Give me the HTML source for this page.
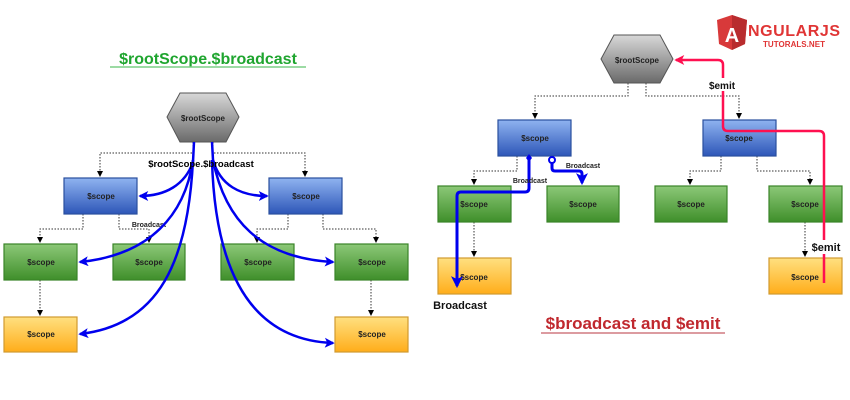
<!DOCTYPE html>
<html><head><meta charset="utf-8"><style>
html,body{margin:0;padding:0;background:#fff;}
svg{display:block;}
text{font-family:"Liberation Sans",sans-serif;}
</style></head><body>
<svg width="850" height="400" viewBox="0 0 850 400" xmlns="http://www.w3.org/2000/svg">
<defs>
<linearGradient id="gb" x1="0" y1="0" x2="0" y2="1"><stop offset="0" stop-color="#8fb3f0"/><stop offset="1" stop-color="#2d56b8"/></linearGradient>
<linearGradient id="gg" x1="0" y1="0" x2="0" y2="1"><stop offset="0" stop-color="#8cc878"/><stop offset="1" stop-color="#3f8f2a"/></linearGradient>
<linearGradient id="go" x1="0" y1="0" x2="0" y2="1"><stop offset="0" stop-color="#ffe080"/><stop offset="1" stop-color="#ffad1a"/></linearGradient>
<linearGradient id="gh" x1="0" y1="0" x2="0" y2="1"><stop offset="0" stop-color="#d8d8d8"/><stop offset="1" stop-color="#6a6a6a"/></linearGradient>
<marker id="ab" markerWidth="4" markerHeight="4" refX="3.3" refY="2" orient="auto" markerUnits="strokeWidth"><path d="M0,0 L4,2 L0,4 L1,2z" fill="#0000ee"/></marker>
<marker id="ar" markerWidth="4" markerHeight="4" refX="3.3" refY="2" orient="auto" markerUnits="strokeWidth"><path d="M0,0 L4,2 L0,4 L1,2z" fill="#ff1050"/></marker>
<marker id="ad" markerWidth="6" markerHeight="6" refX="5" refY="3" orient="auto"><path d="M0,0 L6,3 L0,6z" fill="#000"/></marker>
</defs>

<!-- LEFT -->
<text x="208" y="64" text-anchor="middle" font-size="16" font-weight="bold" fill="#1fa52f">$rootScope.$broadcast</text>
<line x1="110" y1="67" x2="306" y2="67" stroke="#7ccf86" stroke-width="1.5"/>

<g fill="none" stroke="#333" stroke-width="1" stroke-dasharray="1.5,1.5">
<polyline points="193,142 193,153 100,153 100,176" marker-end="url(#ad)"/>
<polyline points="213,142 213,153 305,153 305,176" marker-end="url(#ad)"/>
<polyline points="83,214 83,229 40,229 40,242" marker-end="url(#ad)"/>
<polyline points="119,214 119,229 149,229 149,242" marker-end="url(#ad)"/>
<polyline points="288,214 288,229 257,229 257,242" marker-end="url(#ad)"/>
<polyline points="323,214 323,229 376,229 376,242" marker-end="url(#ad)"/>
<line x1="40" y1="280" x2="40" y2="315" marker-end="url(#ad)"/>
<line x1="371" y1="280" x2="371" y2="315" marker-end="url(#ad)"/>
</g>

<polygon points="180,93 226,93 239,117 226,142 180,142 167,117" fill="url(#gh)" stroke="#555" stroke-width="1"/>
<text x="203" y="121" text-anchor="middle" font-size="8" font-weight="bold" fill="#222">$rootScope</text>

<g stroke-width="1.2">
<rect x="64" y="178" width="73" height="36" fill="url(#gb)" stroke="#2a4f9e"/>
<rect x="269" y="178" width="73" height="36" fill="url(#gb)" stroke="#2a4f9e"/>
<rect x="4" y="244" width="73" height="36" fill="url(#gg)" stroke="#3a8428"/>
<rect x="113" y="244" width="72" height="36" fill="url(#gg)" stroke="#3a8428"/>
<rect x="221" y="244" width="73" height="36" fill="url(#gg)" stroke="#3a8428"/>
<rect x="335" y="244" width="73" height="36" fill="url(#gg)" stroke="#3a8428"/>
<rect x="4" y="317" width="73" height="35" fill="url(#go)" stroke="#d09a30"/>
<rect x="335" y="317" width="73" height="35" fill="url(#go)" stroke="#d09a30"/>
</g>
<g font-size="8" font-weight="bold" fill="#222" text-anchor="middle">
<text x="101" y="199">$scope</text><text x="306" y="199">$scope</text>
<text x="41" y="265">$scope</text><text x="149" y="265">$scope</text>
<text x="258" y="265">$scope</text><text x="372" y="265">$scope</text>
<text x="41" y="337">$scope</text><text x="372" y="337">$scope</text>
<text x="149" y="227" font-size="7">Broadcast</text>
</g>

<g fill="none" stroke="#0000ee" stroke-width="2.5">
<path d="M194,142 L193,162 C185,185 165,196 140,196" marker-end="url(#ab)"/>
<path d="M193,160 C185,215 150,255 80,262" marker-end="url(#ab)"/>
<path d="M193,160 C188,260 160,325 80,334" marker-end="url(#ab)"/>
<path d="M212,142 L213,160 C220,185 240,196 267,196" marker-end="url(#ab)"/>
<path d="M213,160 C225,220 260,258 333,262" marker-end="url(#ab)"/>
<path d="M212,160 C215,270 250,340 333,343" marker-end="url(#ab)"/>
</g>
<text x="201" y="167" text-anchor="middle" font-size="9.5" font-weight="bold" fill="#000">$rootScope.$broadcast</text>

<!-- RIGHT -->
<g fill="none" stroke="#333" stroke-width="1" stroke-dasharray="1.5,1.5">
<polyline points="628,83 628,96 535,96 535,118" marker-end="url(#ad)"/>
<polyline points="646,83 646,96 739,96 739,118" marker-end="url(#ad)"/>
<polyline points="517,156 517,171 474,171 474,184" marker-end="url(#ad)"/>
<polyline points="721,156 721,171 690,171 690,184" marker-end="url(#ad)"/>
<polyline points="757,156 757,171 810,171 810,184" marker-end="url(#ad)"/>
<line x1="474" y1="222" x2="474" y2="256" marker-end="url(#ad)"/>
<line x1="805" y1="222" x2="805" y2="256" marker-end="url(#ad)"/>
</g>

<polygon points="614,35 660,35 673,59 660,83 614,83 601,59" fill="url(#gh)" stroke="#555" stroke-width="1"/>
<text x="637" y="63" text-anchor="middle" font-size="8" font-weight="bold" fill="#222">$rootScope</text>

<g stroke-width="1.2">
<rect x="498" y="120" width="73" height="36" fill="url(#gb)" stroke="#2a4f9e"/>
<rect x="703" y="120" width="73" height="36" fill="url(#gb)" stroke="#2a4f9e"/>
<rect x="438" y="186" width="73" height="36" fill="url(#gg)" stroke="#3a8428"/>
<rect x="547" y="186" width="72" height="36" fill="url(#gg)" stroke="#3a8428"/>
<rect x="655" y="186" width="72" height="36" fill="url(#gg)" stroke="#3a8428"/>
<rect x="769" y="186" width="73" height="36" fill="url(#gg)" stroke="#3a8428"/>
<rect x="438" y="258" width="73" height="36" fill="url(#go)" stroke="#d09a30"/>
<rect x="769" y="258" width="73" height="36" fill="url(#go)" stroke="#d09a30"/>
</g>
<g font-size="8" font-weight="bold" fill="#222" text-anchor="middle">
<text x="535" y="141">$scope</text><text x="739" y="141">$scope</text>
<text x="474" y="207">$scope</text><text x="583" y="207">$scope</text>
<text x="691" y="207">$scope</text><text x="805" y="207">$scope</text>
<text x="474" y="280">$scope</text><text x="805" y="280">$scope</text>
</g>

<g fill="none" stroke="#0000ee" stroke-width="3">
<path d="M529,160 L529,188 Q529,192 525,192 L461,192 Q457,192 457,196 L457,286" marker-end="url(#ab)"/>
<path d="M552,162 L552,168 Q552,171 555,171 L579,171 Q582,171 582,174 L582,183" marker-end="url(#ab)"/>
</g>
<polygon points="529,154 532,158 529,162 526,158" fill="#0000ee"/>
<circle cx="552" cy="160" r="3" fill="#fff" stroke="#0000ee" stroke-width="2"/>
<g font-size="7" font-weight="bold" fill="#222" text-anchor="middle">
<text x="530" y="183">Broadcast</text><text x="583" y="168">Broadcast</text>
</g>
<text x="460" y="309" text-anchor="middle" font-size="11" font-weight="bold" fill="#111">Broadcast</text>

<g fill="none" stroke="#ff1050" stroke-width="2.5">
<path d="M824,283 L824,136 Q824,131 819,131 L728,131 Q723,131 723,126 L723,65 Q723,60 718,60 L676,60" marker-end="url(#ar)"/>
</g>
<rect x="706" y="78" width="30" height="13" fill="#fff"/>
<text x="722" y="89" text-anchor="middle" font-size="10" font-weight="bold" fill="#111">$emit</text>
<rect x="808" y="240" width="34" height="14" fill="#fff"/>
<text x="826" y="251" text-anchor="middle" font-size="11" font-weight="bold" fill="#111">$emit</text>

<text x="633" y="329" text-anchor="middle" font-size="17" font-weight="bold" fill="#c0282e">$broadcast and $emit</text>
<line x1="541" y1="333" x2="725" y2="333" stroke="#d07a80" stroke-width="1.5"/>

<!-- logo -->
<polygon points="732,15 747,20 745,44 732,50 719,44 717,20" fill="#d8393a"/>
<polygon points="732,15 747,20 745,44 732,50" fill="#b82c2e"/>
<text x="732" y="42" text-anchor="middle" font-size="20" font-weight="bold" fill="#fff">A</text>
<text x="748" y="36" font-size="16" font-weight="bold" fill="#e03535" textLength="92">NGULARJS</text>
<text x="763" y="47" font-size="8" font-weight="bold" fill="#e03535" textLength="62">TUTORALS.NET</text>
</svg>
</body></html>
